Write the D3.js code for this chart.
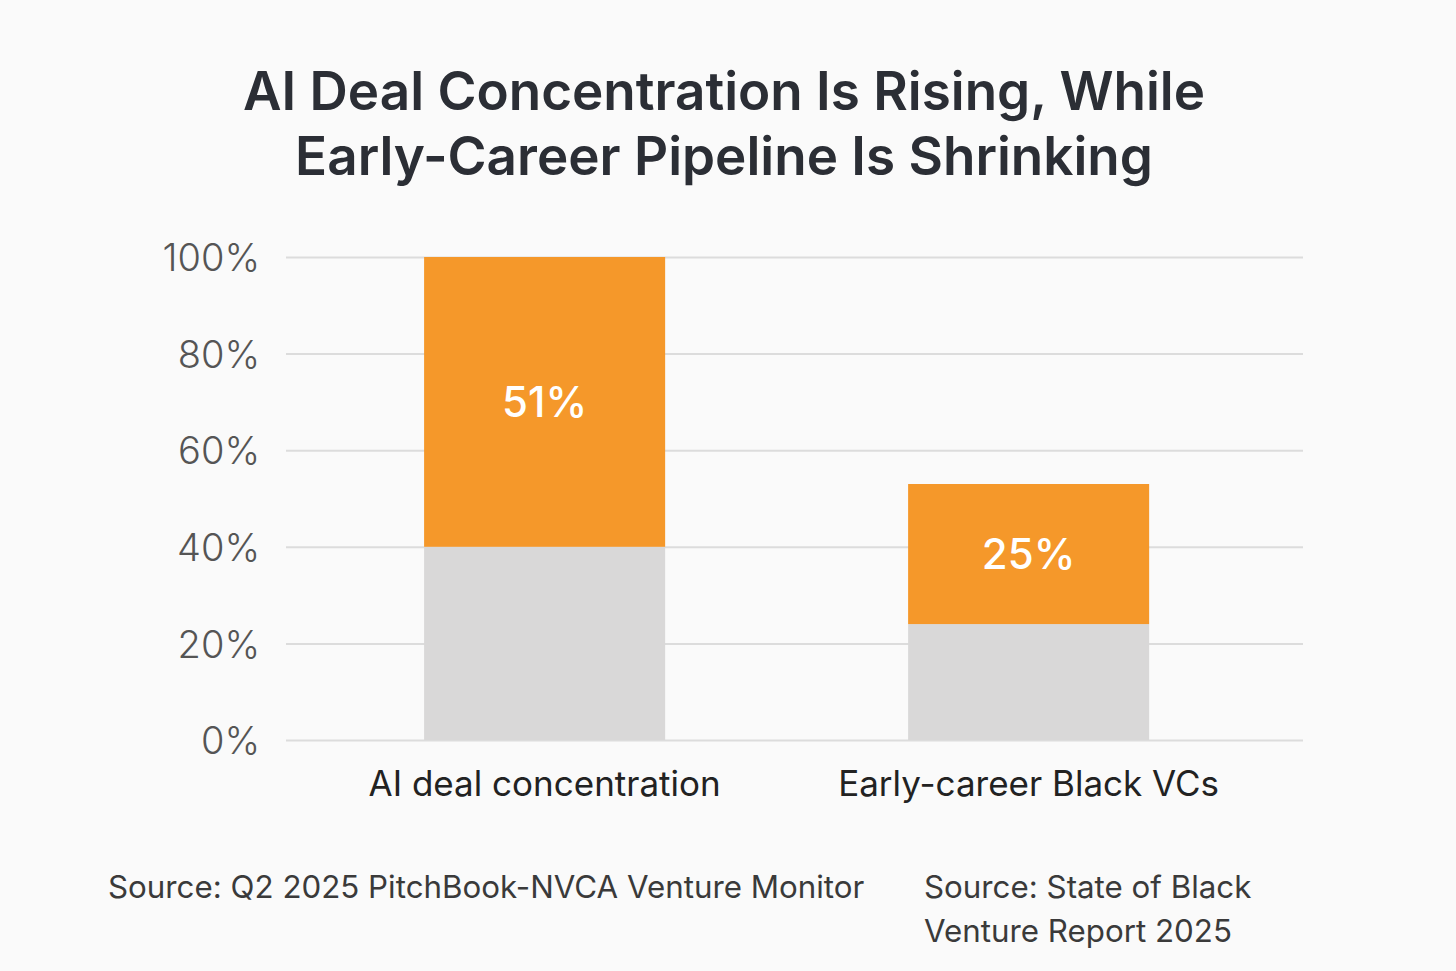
<!DOCTYPE html>
<html>
<head>
<meta charset="utf-8">
<script src="https://cdn.jsdelivr.net/npm/d3@7"></script>
<style>
  html, body { margin: 0; padding: 0; background: #fafafa; }
  svg { display: block; font-family: Inter, "Noto Sans", sans-serif; }
</style>
</head>
<body>
<svg id="chart"></svg>
<script>
// Chart size matches the browser window
const width = 1456;
const height = 971;

// Data
const categories = ["AI deal concentration", "Early-career Black VCs"];
const baseValues = [40, 24];      // grey part of each bar
const highlightValues = [60, 29]; // orange part stacked on top
const barLabels = ["51%", "25%"];
const yTicks = [0, 20, 40, 60, 80, 100];
const titleLines = ["AI Deal Concentration Is Rising, While", "Early-Career Pipeline Is Shrinking"];
const sources = [
    { lines: ["Source: Q2 2025 PitchBook-NVCA Venture Monitor"], x: 108 },
    { lines: ["Source: State of Black", "Venture Report 2025"], x: 924 }
];

const margin = { left: 286, right: 153, top: 257, bottom: 231 };

const svg = d3.select("#chart")
    .attr("width", width)
    .attr("height", height);

svg.append("rect")
    .attr("width", width)
    .attr("height", height)
    .attr("fill", "#fafafa");

// Title
svg.append("g")
    .selectAll("text")
    .data(titleLines)
    .enter()
    .append("text")
    .attr("x", 724)
    .attr("y", (d, i) => 110 + i * 65)
    .attr("text-anchor", "middle")
    .attr("font-size", 53)
    .attr("font-weight", 600)
    .attr("fill", "#2b2e35")
    .text(d => d);

// Scales
const x = d3.scaleBand()
    .domain(categories)
    .range([margin.left, width - margin.right])
    .paddingInner(0.502)
    .paddingOuter(0.3016)
    .align(0.473);

const y = d3.scaleLinear()
    .domain([0, 100])
    .range([height - margin.bottom, margin.top]);

// Gridlines + tick labels via axis
const yAxis = svg.append("g")
    .attr("transform", `translate(${margin.left},0)`)
    .call(d3.axisLeft(y)
        .tickValues(yTicks)
        .tickSize(-(width - margin.left - margin.right))
        .tickPadding(26)
        .tickFormat(d => d + "%"));

yAxis.select(".domain").remove();
yAxis.selectAll(".tick line")
    .attr("stroke", "#dcdcdc")
    .attr("stroke-width", 2);
yAxis.selectAll(".tick text")
    .attr("font-family", "Inter, 'Noto Sans', sans-serif")
    .attr("font-size", 38)
    .attr("font-weight", 300)
    .attr("fill", "#555")
    .attr("dy", "0.36em");

// Stacked bars
const rows = categories.map((c, i) => ({
    cat: c,
    base: baseValues[i],
    top: baseValues[i] + highlightValues[i],
    label: barLabels[i]
}));

svg.selectAll("rect.base")
    .data(rows)
    .enter()
    .append("rect")
    .attr("class", "base")
    .attr("x", d => x(d.cat))
    .attr("width", x.bandwidth())
    .attr("y", d => y(d.base))
    .attr("height", d => y(0) - y(d.base))
    .attr("fill", "#d9d8d8");

svg.selectAll("rect.highlight")
    .data(rows)
    .enter()
    .append("rect")
    .attr("class", "highlight")
    .attr("x", d => x(d.cat))
    .attr("width", x.bandwidth())
    .attr("y", d => y(d.top))
    .attr("height", d => y(d.base) - y(d.top))
    .attr("fill", "#f5982a");

svg.selectAll("text.barlabel")
    .data(rows)
    .enter()
    .append("text")
    .attr("class", "barlabel")
    .attr("x", d => x(d.cat) + x.bandwidth() / 2)
    .attr("y", d => (y(d.base) + y(d.top)) / 2)
    .attr("dy", "0.36em")
    .attr("text-anchor", "middle")
    .attr("font-size", 42)
    .attr("font-weight", 500)
    .attr("fill", "#fff")
    .text(d => d.label);

// Category labels
svg.selectAll("text.cat")
    .data(categories)
    .enter()
    .append("text")
    .attr("class", "cat")
    .attr("x", d => x(d) + x.bandwidth() / 2)
    .attr("y", 796)
    .attr("text-anchor", "middle")
    .attr("font-size", 35)
    .attr("font-weight", 400)
    .attr("fill", "#222")
    .text(d => d);

// Source notes
sources.forEach(s => {
    svg.append("g")
        .selectAll("text")
        .data(s.lines)
        .enter()
        .append("text")
        .attr("x", s.x)
        .attr("y", (d, i) => 898 + i * 44)
        .attr("font-size", 31.3)
        .attr("fill", "#3a3a3a")
        .text(d => d);
});
</script>
</body>
</html>
